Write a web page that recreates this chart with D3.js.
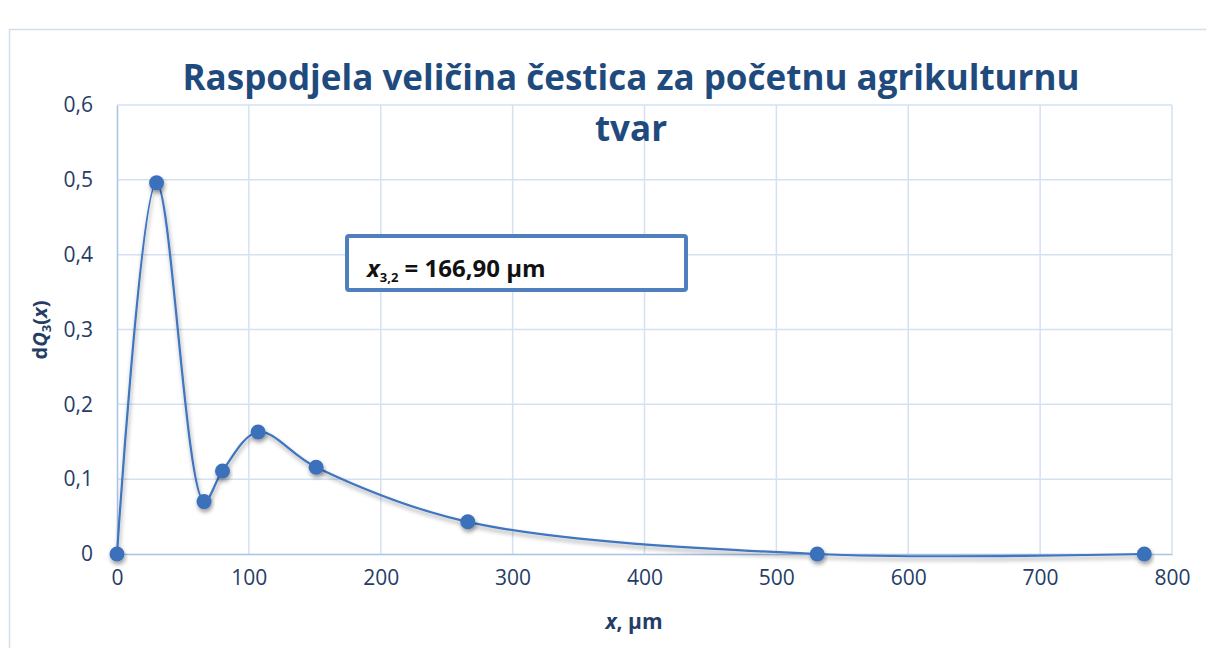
<!DOCTYPE html>
<html>
<head>
<meta charset="utf-8">
<script src="https://cdn.jsdelivr.net/npm/d3@7"></script>
<style>
  body { margin: 0; background: #fff; }
  text { font-family: "Open Sans", sans-serif; }
</style>
</head>
<body>
<div id="chart"></div>
<script>
// particle size distribution
var sizes = [0, 30, 66, 80, 107, 151, 266, 531, 779];
var dQ3 = [0, 0.496, 0.07, 0.111, 0.163, 0.116, 0.043, 0, 0];
var xTicks = [0, 100, 200, 300, 400, 500, 600, 700, 800];
var yTicks = [0, 0.1, 0.2, 0.3, 0.4, 0.5, 0.6];
var titleLines = ["Raspodjela veličina čestica za početnu agrikulturnu", "tvar"];

var W = 1206, H = 648;
var margin = {top: 105, right: 34, bottom: 94, left: 117}
  , width = W - margin.left - margin.right
  , height = H - margin.top - margin.bottom;

var data = sizes.map(function(s, i) { return {x: s, y: dQ3[i]}; });

var xScale = d3.scaleLinear().domain([0, 800]).range([0, width]);
var yScale = d3.scaleLinear().domain([0, 0.6]).range([height, 0]);
var fmt = function(v) { return d3.format(".1~f")(v).replace(".", ","); };

var svg = d3.select("#chart").append("svg")
    .attr("width", W)
    .attr("height", H);

var defs = svg.append("defs");
var f = defs.append("filter").attr("id", "shadow")
    .attr("x", "-20%").attr("y", "-20%").attr("width", "140%").attr("height", "160%");
f.append("feDropShadow").attr("dx", 1).attr("dy", 3).attr("stdDeviation", 2.2)
    .attr("flood-color", "#000").attr("flood-opacity", 0.38);

// chart area border
svg.append("rect")
    .attr("x", 9.5).attr("y", 29.5)
    .attr("width", W + 20).attr("height", H)
    .style("fill", "none").style("stroke", "#d3deec").style("stroke-width", 1.5);

var g = svg.append("g")
    .attr("transform", "translate(" + margin.left + "," + margin.top + ")");

// gridlines
g.selectAll(".hgrid").data(yTicks.slice(1)).enter().append("line")
    .attr("class", "hgrid")
    .attr("x1", 0).attr("x2", width)
    .attr("y1", function(d) { return yScale(d); })
    .attr("y2", function(d) { return yScale(d); })
    .style("stroke", "#d4e1f3").style("stroke-width", 1.5);

g.selectAll(".vgrid").data(xTicks.slice(1)).enter().append("line")
    .attr("class", "vgrid")
    .attr("y1", 0).attr("y2", height)
    .attr("x1", function(d) { return xScale(d); })
    .attr("x2", function(d) { return xScale(d); })
    .style("stroke", "#d4e1f3").style("stroke-width", 1.5);

// axes
var xAxis = g.append("g")
    .attr("transform", "translate(0," + height + ")")
    .call(d3.axisBottom(xScale).tickValues(xTicks).tickSize(0).tickPadding(20));
xAxis.select(".domain").style("stroke", "#a9c2e4").style("stroke-width", 1.5);

var yAxis = g.append("g")
    .call(d3.axisLeft(yScale).tickValues(yTicks).tickSize(0).tickPadding(24).tickFormat(fmt));
yAxis.select(".domain").style("stroke", "#a9c2e4").style("stroke-width", 1.5);

g.selectAll(".tick text")
    .style("font-family", "'Open Sans', sans-serif")
    .style("font-size", "21px")
    .style("fill", "#253d66");
xAxis.selectAll(".tick text").attr("dy", "0.5em");

// annotation box
g.append("rect")
    .attr("x", 347 - margin.left).attr("y", 236 - margin.top)
    .attr("width", 339).attr("height", 54).attr("rx", 2)
    .style("fill", "#fff").style("stroke", "#4f7fbd").style("stroke-width", 4);

var note = g.append("text")
    .attr("x", 367 - margin.left).attr("y", 277 - margin.top)
    .style("font-size", "24px").style("font-weight", "bold").style("fill", "#111");
note.append("tspan").style("font-style", "italic").text("x");
note.append("tspan").attr("dy", 5).style("font-size", "13px").text("3,2");
note.append("tspan").attr("dy", -5).text(" = 166,90 µm");

// line + markers
var line = d3.line()
    .x(function(d) { return xScale(d.x); })
    .y(function(d) { return yScale(d.y); })
    .curve(d3.curveCatmullRom.alpha(0.5));

g.append("path").datum(data)
    .attr("d", line)
    .attr("filter", "url(#shadow)")
    .style("fill", "none").style("stroke", "#3f74bf").style("stroke-width", 2.2);

g.selectAll(".dot").data(data).enter().append("circle")
    .attr("class", "dot")
    .attr("cx", function(d) { return xScale(d.x); })
    .attr("cy", function(d) { return yScale(d.y); })
    .attr("r", 7.5)
    .attr("filter", "url(#shadow)")
    .style("fill", "#3b6fba");

// title
svg.selectAll(".title").data(titleLines).enter().append("text")
    .attr("class", "title")
    .attr("x", 631)
    .attr("y", function(d, i) { return 90 + i * 51; })
    .attr("text-anchor", "middle")
    .style("font-size", "35px").style("font-weight", "bold").style("fill", "#1f4a7d")
    .text(function(d) { return d; });

// axis titles
var yl = svg.append("text")
    .attr("transform", "translate(47,330) rotate(-90)")
    .attr("text-anchor", "middle")
    .style("font-size", "20px").style("font-weight", "bold").style("fill", "#253d66");
yl.append("tspan").text("d");
yl.append("tspan").style("font-style", "italic").text("Q");
yl.append("tspan").attr("dy", 4).style("font-size", "13px").text("3");
yl.append("tspan").attr("dy", -4).text("(");
yl.append("tspan").style("font-style", "italic").text("x");
yl.append("tspan").text(")");

var xl = svg.append("text")
    .attr("x", 634).attr("y", 629)
    .attr("text-anchor", "middle")
    .style("font-size", "21px").style("font-weight", "bold").style("fill", "#253d66");
xl.append("tspan").style("font-style", "italic").text("x");
xl.append("tspan").text(", µm");
</script>
</body>
</html>
